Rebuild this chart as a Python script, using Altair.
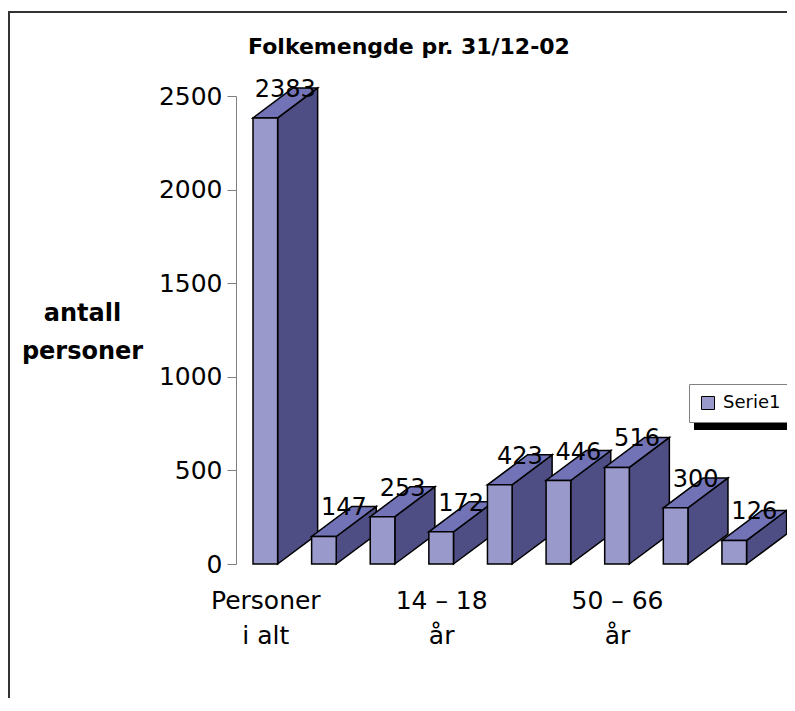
import altair as alt
import pandas as pd

# ---- data ----
categories = ["Personer i alt", "", "", "14 – 18 år", "", "", "50 – 66 år", "", ""]
label_lines = {0: ["Personer", "i alt"], 3: ["14 – 18", "år"], 6: ["50 – 66", "år"]}
values = [2383, 147, 253, 172, 423, 446, 516, 300, 126]
series_name = "Serie1"
y_ticks = [0, 500, 1000, 1500, 2000, 2500]
title_text = "Folkemengde pr. 31/12-02"
y_title = ["antall", "personer"]

# ---- style / geometry (not data) ----
FONT = "DejaVu Sans"
FRONT = "#9999CC"
TOP = "#7272B6"
SIDE = "#4E4E84"
HW = 0.21     # half width of the front face, in category units
DX = 0.683    # depth offset along x, in category units
DY = 160      # depth offset along y, in value units

idx = list(range(len(values)))

front_df = pd.DataFrame({
    "bar": idx,
    "x0": [i - HW for i in idx],
    "x1": [i + HW for i in idx],
    "v": values,
    "base": [0] * len(values),
    "series": [series_name] * len(values),
})

side_rows = []
top_rows = []
for i, v in zip(idx, values):
    side_rows.append({"bar": i, "x": i + HW, "lo": 0, "hi": v})
    side_rows.append({"bar": i, "x": i + HW + DX, "lo": DY, "hi": v + DY})
    top_rows.append({"bar": i, "y": v, "xl": i - HW, "xr": i + HW})
    top_rows.append({"bar": i, "y": v + DY, "xl": i - HW + DX, "xr": i + HW + DX})
side_df = pd.DataFrame(side_rows)
top_df = pd.DataFrame(top_rows)

label_df = pd.DataFrame({"x": [i + DX / 2 for i in idx], "v": values,
                         "txt": [str(v) for v in values]})

# x-axis label expression from the category list
expr_parts = []
for i, c in enumerate(categories):
    if c:
        lines = label_lines.get(i, [c])
        arr = "[" + ", ".join("'" + s + "'" for s in lines) + "]"
        expr_parts.append(f"datum.value == {i} ? {arr} : ")
label_expr = "".join(expr_parts) + "''"
shown = [i for i, c in enumerate(categories) if c]

x_scale = alt.Scale(domain=[-0.5, 8.9], nice=False, zero=False)
y_scale = alt.Scale(domain=[0, 2500], nice=False)

x_axis = alt.Axis(values=shown, labelExpr=label_expr, domain=False, ticks=False,
                  grid=False, labelFontSize=25, labelFont=FONT, labelColor="black",
                  labelPadding=24, labelLineHeight=35, labelFlush=False,
                  labelOverlap=False, title=None)
y_axis = alt.Axis(values=y_ticks, format="d", grid=False, domainColor="#808080",
                  tickColor="#808080", tickSize=9, labelFontSize=25, labelFont=FONT,
                  labelColor="black", labelPadding=5, title=y_title, titleAngle=0,
                  titleX=-154, titleY=217, titleAlign="center", titleBaseline="middle",
                  titleFontSize=24, titleFont=FONT, titleFontWeight="bold",
                  titleColor="black", titleLineHeight=38)

# frame, title and legend shadow (decoration)
one = pd.DataFrame({"t": [title_text]})
frame_top = alt.Chart(one).mark_rect(fill="#333333").encode(
    x=alt.value(-228), x2=alt.value(551), y=alt.value(-85), y2=alt.value(-83))
frame_left = alt.Chart(one).mark_rect(fill="#333333").encode(
    x=alt.value(-228), x2=alt.value(-226), y=alt.value(-85), y2=alt.value(620))
shadow = alt.Chart(one).mark_rect(fill="black").encode(
    x=alt.value(458), x2=alt.value(551), y=alt.value(294), y2=alt.value(334))
title = alt.Chart(one).mark_text(fontSize=22, font=FONT, fontWeight="bold",
                                 color="black", align="center", baseline="middle").encode(
    x=alt.value(173), y=alt.value(-49), text="t:N")

sides = alt.Chart(side_df).mark_area(orient="vertical", fill=SIDE, stroke="black",
                                     strokeWidth=1.5, strokeJoin="miter").encode(
    x=alt.X("x:Q", scale=x_scale, axis=x_axis),
    y=alt.Y("lo:Q", scale=y_scale, axis=y_axis),
    y2="hi:Q",
    detail="bar:N",
)

tops = alt.Chart(top_df).mark_area(orient="horizontal", fill=TOP, stroke="black",
                                   strokeWidth=1.5, strokeJoin="miter").encode(
    y=alt.Y("y:Q", scale=y_scale, axis=y_axis),
    x=alt.X("xl:Q", scale=x_scale, axis=x_axis),
    x2="xr:Q",
    detail="bar:N",
)

fronts = alt.Chart(front_df).mark_rect(stroke="black", strokeWidth=1.5).encode(
    x=alt.X("x0:Q", scale=x_scale, axis=x_axis),
    x2="x1:Q",
    y=alt.Y("v:Q", scale=y_scale, axis=y_axis),
    y2="base:Q",
    color=alt.Color("series:N", scale=alt.Scale(range=[FRONT]),
                    legend=alt.Legend(title=None, orient="none", legendX=453, legendY=288,
                                      fillColor="white", strokeColor="#808080",
                                      padding=10, symbolType="square", symbolSize=169,
                                      symbolStrokeColor="black", symbolStrokeWidth=1,
                                      labelFontSize=18, labelFont=FONT,
                                      labelColor="black", labelOffset=6)),
)

labels = alt.Chart(label_df).mark_text(fontSize=24, font=FONT, baseline="alphabetic",
                                       align="center", dy=-21, color="black").encode(
    x=alt.X("x:Q", scale=x_scale, axis=x_axis),
    y=alt.Y("v:Q", scale=y_scale, axis=y_axis),
    text="txt:N",
)

chart = alt.layer(frame_top, frame_left, shadow, title, sides, tops, fronts,
                  labels).properties(
    width=551, height=468,
    autosize=alt.AutoSizeParams(type="none"),
    padding={"left": 228, "top": 88, "right": 0, "bottom": 134},
).configure(font=FONT).configure_view(stroke=None)

chart.save("out.html", embed_options={"renderer": "svg", "actions": False})
